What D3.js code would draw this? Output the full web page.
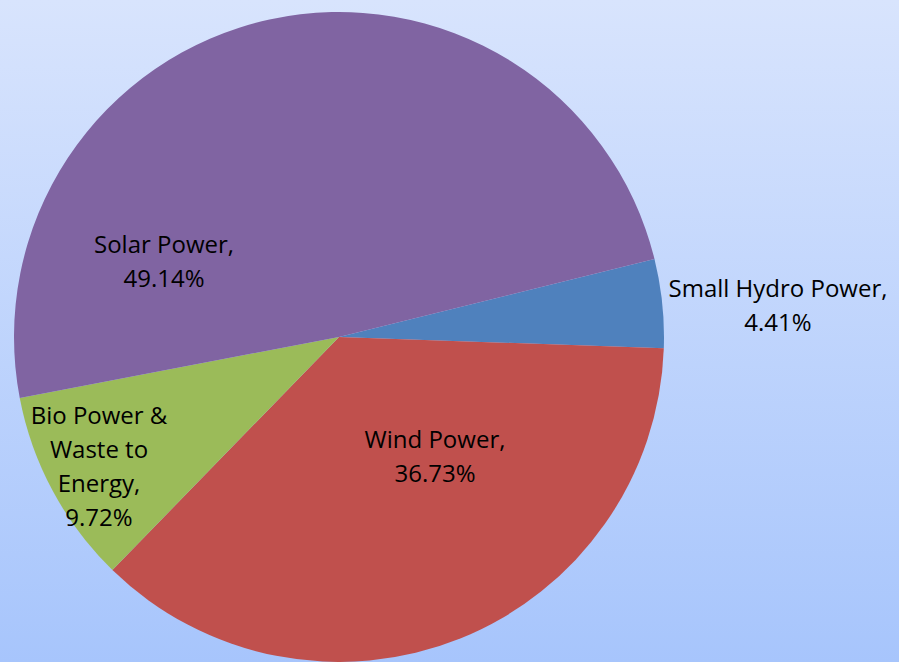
<!DOCTYPE html>
<html><head><meta charset="utf-8">
<script src="https://cdn.jsdelivr.net/npm/d3@7"></script>
<style>html,body{margin:0;padding:0;overflow:hidden;}</style>
</head><body>
<svg id="c" width="899" height="662"></svg>
<script>
const categories = ["Small Hydro Power", "Wind Power", "Bio Power & Waste to Energy", "Solar Power"];
const values = [4.41, 36.73, 9.72, 49.14];
const colors = ["#4f81bd", "#c0504d", "#9bbb59", "#8064a2"];
const labelLines = [["Small Hydro Power,", "4.41%"], ["Wind Power,", "36.73%"], ["Bio Power &", "Waste to", "Energy,", "9.72%"], ["Solar Power,", "49.14%"]];

const W = 899, H = 662;
const svg = d3.select("#c");
const defs = svg.append("defs");
const grad = defs.append("linearGradient").attr("id", "bg").attr("x1", 0).attr("y1", 0).attr("x2", 0).attr("y2", 1);
grad.append("stop").attr("offset", "0%").attr("stop-color", "#d8e4fd");
grad.append("stop").attr("offset", "100%").attr("stop-color", "#a7c5fc");
svg.append("rect").attr("width", W).attr("height", H).attr("fill", "url(#bg)");

const cx = 339, cy = 337, r = 325;
const start = 76.1 * Math.PI / 180;
const pie = d3.pie().sort(null).value(d => d).startAngle(start).endAngle(start + 2 * Math.PI);
const arcs = pie(values);
const arc = d3.arc().innerRadius(0).outerRadius(r);
const g = svg.append("g").attr("transform", `translate(${cx},${cy})`);
g.selectAll("path").data(arcs).join("path").attr("d", arc).attr("fill", (d, i) => colors[i]);

// first-line baseline positions
const labelPos = [[778 - cx, 297 - cy], [435 - cx, 448 - cy], [99 - cx, 424 - cy], [164 - cx, 253 - cy]];
const lh = 34;
labelLines.forEach((lines, i) => {
  const t = g.append("text").attr("text-anchor", "middle")
    .attr("font-family", "'Open Sans', sans-serif").attr("font-size", 24).attr("fill", "#000");
  lines.forEach((ln, j) => {
    t.append("tspan").attr("x", labelPos[i][0]).attr("y", labelPos[i][1] + j * lh).text(ln);
  });
});
</script>
</body></html>
